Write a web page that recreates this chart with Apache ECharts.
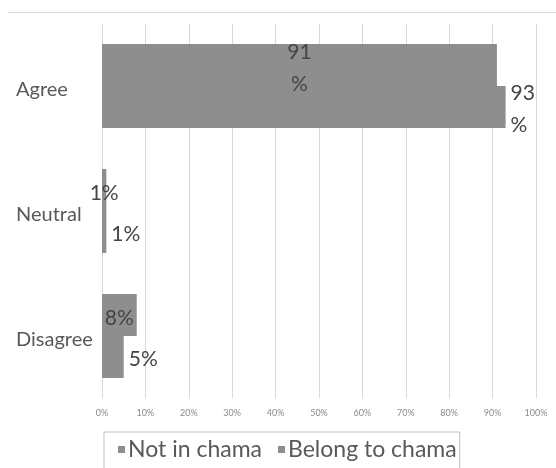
<!DOCTYPE html>
<html>
<head>
<meta charset="utf-8">
<script src="https://cdn.jsdelivr.net/npm/echarts@6/dist/echarts.min.js"></script>
<style>
	html, body { margin: 0; padding: 0; background: #fff; }
	#chart { width: 556px; height: 468px; }
</style>
</head>
<body>
<div id="chart"></div>
<script>
var categories = ['Agree', 'Neutral', 'Disagree'];
var notInChama = [91, 1, 8];
var belongToChama = [93, 1, 5];
var seriesNames = ['Not in chama', 'Belong to chama'];

var barColor = '#8e8e8e';
var labelColor = '#454545';

function pctLabel(params) {
	// the long bars wrap their label onto two lines, like the original
	return params.value >= 50 ? params.value + '\n%' : params.value + '%';
}

var mainChart = echarts.init(document.getElementById('chart'));

var chartOption = {
	animation: false,
	textStyle: {
		fontFamily: 'Lato'
	},
	graphic: [{
		type: 'line',
		shape: { x1: 8, y1: 12.5, x2: 556, y2: 12.5 },
		style: { stroke: '#d9d9d9', lineWidth: 1 }
	}],
	grid: {
		left: 102,
		right: 20,
		top: 23.5,
		bottom: 69.5
	},
	legend: {
		data: seriesNames,
		left: 104,
		top: 432,
		orient: 'horizontal',
		icon: 'rect',
		itemWidth: 7,
		itemHeight: 7,
		itemGap: 16,
		borderColor: '#bfbfbf',
		borderWidth: 1,
		padding: [6, 3, 20, 14],
		textStyle: {
			color: '#595959',
			fontSize: 23,
			padding: [0, 0, 0, -2]
		}
	},
	xAxis: {
		type: 'value',
		min: 0,
		max: 100,
		interval: 10,
		axisLine: { show: false },
		axisTick: { show: false },
		axisLabel: {
			formatter: '{value}%',
			fontSize: 9,
			color: '#8a8a8a',
			margin: 10
		},
		splitLine: {
			show: true,
			lineStyle: { color: '#d9d9d9', width: 1 }
		}
	},
	yAxis: {
		type: 'category',
		data: categories,
		inverse: true,
		axisLine: { show: false },
		axisTick: { show: false },
		axisLabel: {
			align: 'left',
			verticalAlign: 'top',
			lineHeight: 8,
			margin: 86,
			fontSize: 20,
			color: '#595959'
		}
	},
	series: [{
			name: seriesNames[0],
			type: 'bar',
			data: notInChama,
			barGap: '0%',
			barWidth: 42,
			itemStyle: { color: barColor },
			label: {
				show: true,
				position: 'inside',
				offset: [0, 3],
				formatter: pctLabel,
				fontSize: 21,
				lineHeight: 32,
				color: labelColor
			}
		}, {
			name: seriesNames[1],
			type: 'bar',
			data: belongToChama,
			barGap: '0%',
			barWidth: 42,
			itemStyle: { color: barColor },
			label: {
				show: true,
				position: 'right',
				distance: 5,
				offset: [0, 2],
				formatter: pctLabel,
				fontSize: 21,
				lineHeight: 32,
				color: labelColor
			}
		}
	]
};

mainChart.setOption(chartOption);
</script>
</body>
</html>
